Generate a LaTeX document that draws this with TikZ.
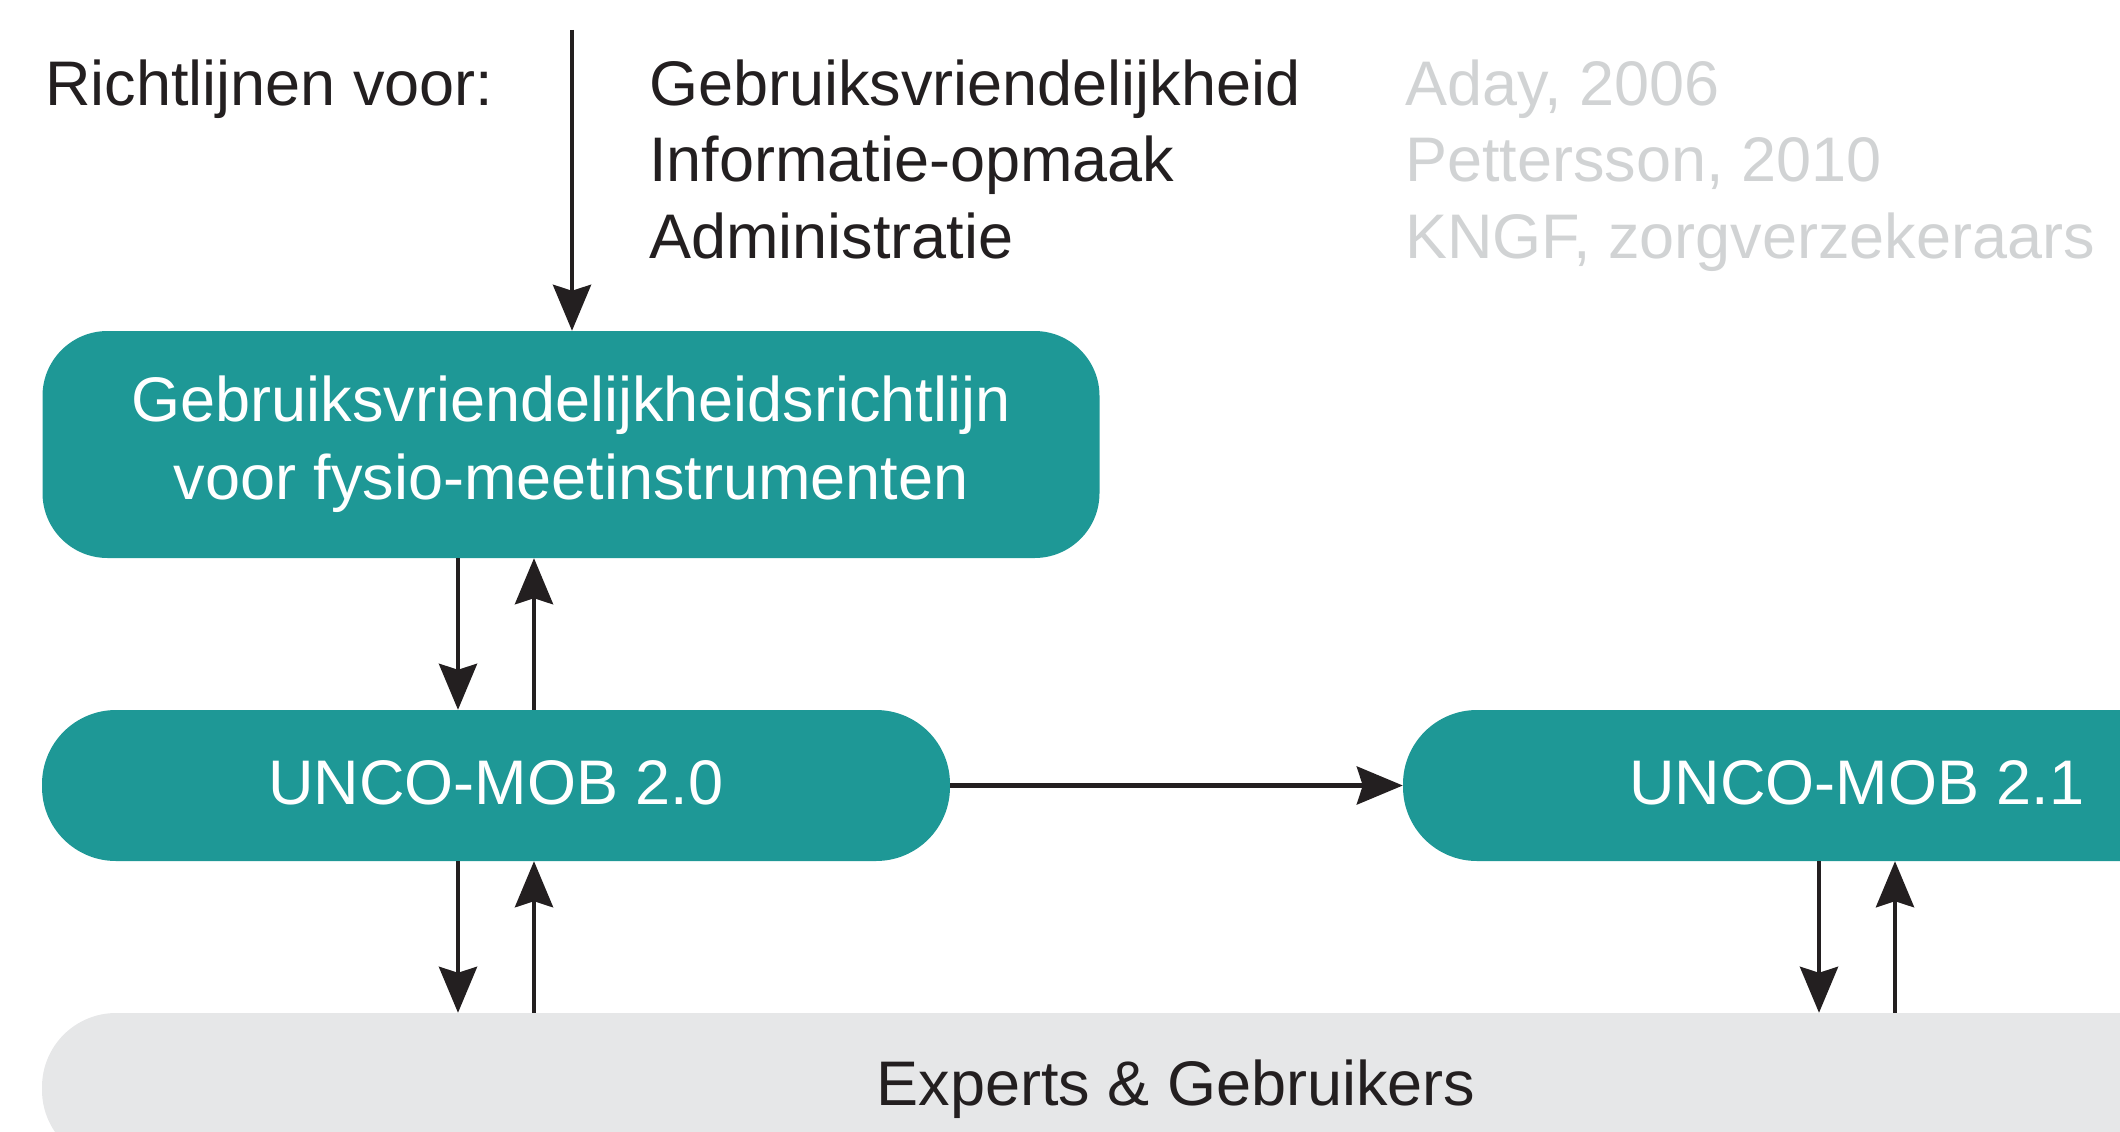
\documentclass[tikz,border=0pt]{standalone}
\usepackage{fontspec}
\setmainfont{Liberation Sans}
\usetikzlibrary{arrows.meta}
\definecolor{teal1}{RGB}{30,152,150}
\definecolor{ink}{RGB}{35,31,32}
\definecolor{lightgraytext}{RGB}{209,211,212}
\definecolor{graybox}{RGB}{230,231,232}
\tikzset{
  txt/.style={inner sep=0pt, anchor=base west, text=ink, font=\fontsize{63}{77}\selectfont},
  reftxt/.style={txt, text=lightgraytext},
  tealbox/.style={fill=teal1, text=white, inner sep=0pt, font=\fontsize{63}{78}\selectfont, align=center},
  pill/.style={tealbox, minimum width=908pt, minimum height=151pt, rounded corners=74pt, text height=45pt, text depth=8pt},
  arr/.style={draw=ink, line width=4.5pt, -{Stealth[length=46pt, width=38pt, inset=6pt]}},
}
\begin{document}
\begin{tikzpicture}[x=1pt, y=-1pt]
\useasboundingbox (0,0) rectangle (2120,1132);
\clip (0,0) rectangle (2120,1132);
% top texts
\node[txt] (rv) at (45,105) {Richtlijnen voor:};
\node[txt] (t1) at (649,105) {Gebruiksvriendelijkheid};
\node[txt] (t2) at (649,181) {Informatie-opmaak};
\node[txt] (t3) at (649,258) {Administratie};
\node[reftxt] (r1) at (1405,105) {Aday, 2006};
\node[reftxt] (r2) at (1405,181) {Pettersson, 2010};
\node[reftxt] (r3) at (1405,258) {KNGF, zorgverzekeraars};
% boxes
\node[tealbox, minimum width=1057pt, minimum height=227pt, rounded corners=65pt] (b1) at (571,444.5)
  {Gebruiksvriendelijkheidsrichtlijn\\voor fysio-meetinstrumenten};
\node[pill] (b2) at (496,785.5) {UNCO-MOB 2.0};
\node[pill] (b3) at (1857,785.5) {UNCO-MOB 2.1};
\node[fill=graybox, text=ink, inner sep=0pt, minimum width=2268pt, minimum height=151pt, rounded corners=74pt,
  font=\fontsize{63}{77}\selectfont, text height=46pt, text depth=13pt] (g) at (1176,1088.5) {Experts \& Gebruikers};
% connectors
\coordinate (top) at (572,30);
\draw[arr] (top) -- (top |- b1.north);
\draw[arr] ([xshift=-38pt]b2.north |- b1.south) -- ([xshift=-38pt]b2.north);
\draw[arr] ([xshift=38pt]b2.north) -- ([xshift=38pt]b2.north |- b1.south);
\draw[arr] ([xshift=-38pt]b2.south) -- ([xshift=-38pt]b2.south |- g.north);
\draw[arr] ([xshift=38pt]b2.south |- g.north) -- ([xshift=38pt]b2.south);
\draw[arr] ([xshift=-38pt]b3.south) -- ([xshift=-38pt]b3.south |- g.north);
\draw[arr] ([xshift=38pt]b3.south |- g.north) -- ([xshift=38pt]b3.south);
\draw[arr] (b2.east) -- (b3.west);
\end{tikzpicture}
\end{document}
